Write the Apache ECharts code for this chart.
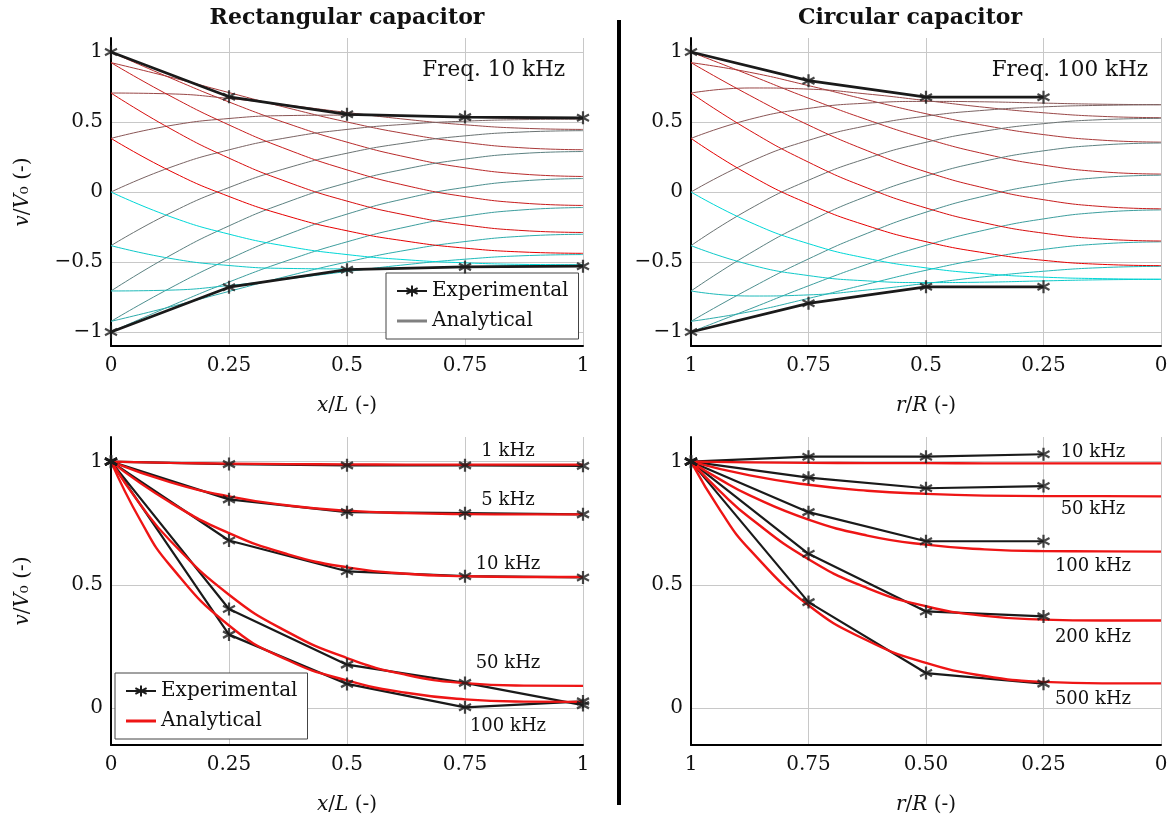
<!DOCTYPE html>
<html><head><meta charset="utf-8">
<script src="https://cdn.jsdelivr.net/npm/echarts@6/dist/echarts.min.js"></script>
<style>html,body{margin:0;padding:0;background:#fff}#c{width:1175px;height:821px}</style>
</head><body><div id="c"></div>
<script>
// ---------- DATA ----------
// Top row: snapshots of v/V0 at 16 phases (deg) of one period
const snapPhases = [0, 22.5, 45, 67.5, 90, 112.5, 135, 157.5, 180, 202.5, 225, 247.5, 270, 292.5, 315, 337.5];

// Rectangular capacitor, 10 kHz
const rectX = [0, 0.125, 0.25, 0.375, 0.5, 0.625, 0.75, 0.875, 1];
const rectSnapshots = [
  [1.000, 0.816, 0.643, 0.488, 0.356, 0.250, 0.173, 0.127, 0.111],
  [0.924, 0.821, 0.710, 0.600, 0.500, 0.416, 0.354, 0.315, 0.302],
  [0.707, 0.701, 0.668, 0.620, 0.568, 0.519, 0.480, 0.455, 0.447],
  [0.383, 0.474, 0.525, 0.546, 0.549, 0.543, 0.534, 0.526, 0.523],
  [0.000, 0.175, 0.301, 0.389, 0.447, 0.484, 0.506, 0.517, 0.520],
  [-0.383, -0.151, 0.032, 0.173, 0.277, 0.351, 0.401, 0.429, 0.438],
  [-0.707, -0.454, -0.242, -0.070, 0.065, 0.165, 0.235, 0.276, 0.289],
  [-0.924, -0.687, -0.479, -0.302, -0.158, -0.046, 0.033, 0.080, 0.096],
  [-1.000, -0.816, -0.643, -0.488, -0.356, -0.250, -0.173, -0.127, -0.111],
  [-0.924, -0.821, -0.710, -0.600, -0.500, -0.416, -0.354, -0.315, -0.302],
  [-0.707, -0.701, -0.668, -0.620, -0.568, -0.519, -0.480, -0.455, -0.447],
  [-0.383, -0.474, -0.525, -0.546, -0.549, -0.543, -0.534, -0.526, -0.523],
  [0.000, -0.175, -0.301, -0.389, -0.447, -0.484, -0.506, -0.517, -0.520],
  [0.383, 0.151, -0.032, -0.173, -0.277, -0.351, -0.401, -0.429, -0.438],
  [0.707, 0.454, 0.242, 0.070, -0.065, -0.165, -0.235, -0.276, -0.289],
  [0.924, 0.687, 0.479, 0.302, 0.158, 0.046, -0.033, -0.080, -0.096]
];
const rectExpX = [0, 0.25, 0.5, 0.75, 1];
const rectExpUpper = [1, 0.68, 0.555, 0.535, 0.53];
const rectExpLower = [-1, -0.68, -0.555, -0.535, -0.53];

// Circular capacitor, 100 kHz
const circR = [1, 0.875, 0.75, 0.625, 0.5, 0.375, 0.25, 0.125, 0];
const circSnapshots = [
  [1.000, 0.836, 0.670, 0.516, 0.381, 0.272, 0.192, 0.144, 0.128],
  [0.924, 0.855, 0.760, 0.658, 0.559, 0.475, 0.410, 0.370, 0.356],
  [0.707, 0.743, 0.735, 0.700, 0.653, 0.605, 0.566, 0.540, 0.531],
  [0.383, 0.519, 0.597, 0.635, 0.647, 0.644, 0.635, 0.627, 0.624],
  [0.000, 0.215, 0.369, 0.474, 0.542, 0.584, 0.608, 0.619, 0.623],
  [-0.383, -0.121, 0.084, 0.241, 0.355, 0.435, 0.488, 0.517, 0.526],
  [-0.707, -0.439, -0.213, -0.029, 0.114, 0.221, 0.294, 0.336, 0.350],
  [-0.924, -0.690, -0.478, -0.295, -0.144, -0.028, 0.055, 0.104, 0.120],
  [-1.000, -0.836, -0.670, -0.516, -0.381, -0.272, -0.192, -0.144, -0.128],
  [-0.924, -0.855, -0.760, -0.658, -0.559, -0.475, -0.410, -0.370, -0.356],
  [-0.707, -0.743, -0.735, -0.700, -0.653, -0.605, -0.566, -0.540, -0.531],
  [-0.383, -0.519, -0.597, -0.635, -0.647, -0.644, -0.635, -0.627, -0.624],
  [0.000, -0.215, -0.369, -0.474, -0.542, -0.584, -0.608, -0.619, -0.623],
  [0.383, 0.121, -0.084, -0.241, -0.355, -0.435, -0.488, -0.517, -0.526],
  [0.707, 0.439, 0.213, 0.029, -0.114, -0.221, -0.294, -0.336, -0.350],
  [0.924, 0.690, 0.478, 0.295, 0.144, 0.028, -0.055, -0.104, -0.120]
];
const circExpR = [1, 0.75, 0.5, 0.25];
const circExpUpper = [1, 0.795, 0.677, 0.677];
const circExpLower = [-1, -0.795, -0.677, -0.677];

// Bottom left: rectangular, several frequencies
const rectFreqLabels = ['1 kHz', '5 kHz', '10 kHz', '50 kHz', '100 kHz'];
const rectXFine = [0, 0.0625, 0.125, 0.25, 0.375, 0.5, 0.625, 0.75, 0.875, 1];
const rectAna1k   = [1, 0.995, 0.992, 0.990, 0.989, 0.988, 0.988, 0.988, 0.988];
const rectAna5k   = [1, 0.917, 0.859, 0.822, 0.801, 0.791, 0.787, 0.786, 0.786];
const rectAna10k  = [1, 0.835, 0.710, 0.624, 0.571, 0.545, 0.535, 0.532, 0.532];
const rectAna50k  = [1, 0.825, 0.680, 0.460, 0.308, 0.203, 0.135, 0.101, 0.091, 0.090];
const rectAna100k = [1, 0.761, 0.579, 0.335, 0.194, 0.112, 0.062, 0.035, 0.026, 0.025];
const rectExp1k   = [1, 0.990, 0.985, 0.985, 0.983];
const rectExp5k   = [1, 0.847, 0.795, 0.791, 0.786];
const rectExp10k  = [1, 0.680, 0.555, 0.535, 0.530];
const rectExp50k  = [1, 0.402, 0.176, 0.102, 0.012];
const rectExp100k = [1, 0.298, 0.098, 0.003, 0.027];

// Bottom right: circular, several frequencies
const circFreqLabels = ['10 kHz', '50 kHz', '100 kHz', '200 kHz', '500 kHz'];
const circRFine = [1, 0.9375, 0.875, 0.75, 0.625, 0.5, 0.375, 0.25, 0.125, 0];
const circAna10k  = [1, 0.997, 0.995, 0.994, 0.994, 0.993, 0.993, 0.993, 0.993];
const circAna50k  = [1, 0.944, 0.906, 0.882, 0.869, 0.862, 0.860, 0.860, 0.859];
const circAna100k = [1, 0.927, 0.863, 0.765, 0.700, 0.663, 0.644, 0.637, 0.636, 0.635];
const circAna200k = [1, 0.878, 0.772, 0.604, 0.487, 0.413, 0.374, 0.359, 0.355, 0.355];
const circAna500k = [1, 0.801, 0.643, 0.417, 0.274, 0.183, 0.130, 0.106, 0.100, 0.100];
const circExp10k  = [1, 1.020, 1.020, 1.030];
const circExp50k  = [1, 0.935, 0.892, 0.901];
const circExp100k = [1, 0.795, 0.677, 0.677];
const circExp200k = [1, 0.626, 0.392, 0.372];
const circExp500k = [1, 0.430, 0.142, 0.099];

// Tick labels
const xTicksRect = ['0', '0.25', '0.5', '0.75', '1'];
const xTicksCircTop = ['0', '0.25', '0.5', '0.75', '1'];
const xTicksCircBottom = ['0', '0.25', '0.50', '0.75', '1'];
const yTicksTop = [-1, -0.5, 0, 0.5, 1];
const yTicksBottom = [0, 0.5, 1];

// ---------- STYLE / BUILD ----------
const SERIF = '"DejaVu Serif", serif';
const TXT = '#111';
const STAR = 'path://M0,-5L0,5M-4.33,-2.5L4.33,2.5M-4.33,2.5L4.33,-2.5';
const LINE_ICON = 'path://M0,0H30V3H0Z';
const EXP_COLOR = '#1a1a1a';
const ANA_RED = '#ee1515';

const pts = (xs, ys) => xs.map((x, i) => [x, ys[i]]);
function snapColor(deg) {
  const idx = (((deg - 292.5) / 22.5) % 16 + 16) % 16;
  const f = idx / 15;
  const r = Math.round(230 * (1 - f)), g = Math.round(215 * f);
  return `rgb(${r},${g},${g})`;
}
const fmtNum = v => (v < 0 ? '\u2212' + String(Math.abs(v)) : String(v));

const nameStyle = {
  fontFamily: SERIF, fontSize: 20, color: TXT,
  rich: { i: { fontFamily: SERIF, fontStyle: 'italic', fontSize: 20, color: TXT } }
};
function xAxis(gi, inverse, labels, name) {
  return {
    type: 'value', gridIndex: gi, min: 0, max: 1, interval: 0.25, inverse: inverse,
    axisLine: { show: true, onZero: false, lineStyle: { color: '#000', width: 2 } },
    axisTick: { show: false },
    axisLabel: { margin: 10, color: TXT, fontFamily: SERIF, fontSize: 20,
      showMinLabel: true, showMaxLabel: true,
      formatter: v => labels[Math.round(v * 4)] },
    splitLine: { show: true, lineStyle: { color: '#c8c8c8', width: 1 } },
    name: name, nameLocation: 'middle', nameGap: 50, nameTextStyle: nameStyle
  };
}
function yAxis(gi, min, max, ticks, name) {
  const o = {
    type: 'value', gridIndex: gi, min: min, max: max,
    axisLine: { show: true, onZero: false, lineStyle: { color: '#000', width: 2 } },
    axisTick: { show: false, customValues: ticks },
    axisLabel: { margin: 8, color: TXT, fontFamily: SERIF, fontSize: 20, customValues: ticks, formatter: fmtNum },
    splitLine: { show: true, lineStyle: { color: '#c8c8c8', width: 1 } }
  };
  if (name) { Object.assign(o, { name: name, nameLocation: 'middle', nameRotate: 90, nameGap: 78, nameTextStyle: nameStyle }); }
  return o;
}

const series = [];
function addSnapshots(gi, xs, rows) {
  rows.forEach((row, k) => {
    series.push({ type: 'line', name: 'snap' + gi + '_' + k, xAxisIndex: gi, yAxisIndex: gi,
      data: pts(xs, row), smooth: 0.5, symbol: 'none', silent: true, z: 2,
      lineStyle: { color: snapColor(snapPhases[k]), width: 1 } });
  });
}
function addExp(gi, xs, ys, id) {
  series.push({ type: 'line', name: 'expline' + id, xAxisIndex: gi, yAxisIndex: gi, data: pts(xs, ys),
    symbol: 'none', silent: true, z: 3, lineStyle: { color: EXP_COLOR, width: gi < 2 ? 2.8 : 2.2 } });
  series.push({ type: 'scatter', name: 'expmark' + id, xAxisIndex: gi, yAxisIndex: gi, data: pts(xs, ys),
    symbol: STAR, symbolSize: [12, 13], silent: true, z: 6,
    itemStyle: { color: EXP_COLOR, borderColor: EXP_COLOR, borderWidth: 2.3 } });
}
function addAna(gi, xs, ys, id) {
  series.push({ type: 'line', name: 'ana' + id, xAxisIndex: gi, yAxisIndex: gi, data: pts(xs, ys),
    smooth: 0.5, symbol: 'none', silent: true, z: 4,
    lineStyle: { color: ANA_RED, width: 2.4 } });
}

// top left
addSnapshots(0, rectX, rectSnapshots);
addExp(0, rectExpX, rectExpUpper, 'TLu');
addExp(0, rectExpX, rectExpLower, 'TLl');
// top right
addSnapshots(1, circR, circSnapshots);
addExp(1, circExpR, circExpUpper, 'TRu');
addExp(1, circExpR, circExpLower, 'TRl');
// bottom left
addAna(2, rectX, rectAna1k, 'BL1');
addAna(2, rectX, rectAna5k, 'BL5');
addAna(2, rectX, rectAna10k, 'BL10');
addAna(2, rectXFine, rectAna50k, 'BL50');
addAna(2, rectXFine, rectAna100k, 'BL100');
addExp(2, rectExpX, rectExp1k, 'BL1');
addExp(2, rectExpX, rectExp5k, 'BL5');
addExp(2, rectExpX, rectExp10k, 'BL10');
addExp(2, rectExpX, rectExp50k, 'BL50');
addExp(2, rectExpX, rectExp100k, 'BL100');
// bottom right
addAna(3, circR, circAna10k, 'BR10');
addAna(3, circR, circAna50k, 'BR50');
addAna(3, circRFine, circAna100k, 'BR100');
addAna(3, circRFine, circAna200k, 'BR200');
addAna(3, circRFine, circAna500k, 'BR500');
addExp(3, circExpR, circExp10k, 'BR10');
addExp(3, circExpR, circExp50k, 'BR50');
addExp(3, circExpR, circExp100k, 'BR100');
addExp(3, circExpR, circExp200k, 'BR200');
addExp(3, circExpR, circExp500k, 'BR500');

// legend-only series
const legendExp = (name, gi) => ({ type: 'line', name: name, xAxisIndex: gi, yAxisIndex: gi, data: [],
  symbol: STAR, symbolSize: [12, 13], showSymbol: true,
  lineStyle: { color: EXP_COLOR, width: 2.8 },
  itemStyle: { color: EXP_COLOR, borderColor: EXP_COLOR, borderWidth: 2.3 } });
series.push(legendExp('Experimental', 0));
series.push({ type: 'line', name: 'Analytical', xAxisIndex: 0, yAxisIndex: 0, data: [], symbol: 'none',
  lineStyle: { color: '#808080', width: 3 }, itemStyle: { color: '#808080' } });
series.push(legendExp('Experimental ', 2));
series.push({ type: 'line', name: 'Analytical ', xAxisIndex: 2, yAxisIndex: 2, data: [], symbol: 'none',
  lineStyle: { color: ANA_RED, width: 3 }, itemStyle: { color: ANA_RED } });

const legendBase = {
  orient: 'vertical', itemWidth: 30, itemHeight: 14, itemGap: 10, padding: [8, 10, 8, 10],
  borderColor: '#444', borderWidth: 1, backgroundColor: '#fff', selectedMode: false,
  textStyle: { fontFamily: SERIF, fontSize: 20, color: TXT }, formatter: n => n.trim()
};

const txt = (text, x, y, align, size, bold) => ({
  type: 'text', z: 10, silent: true,
  style: { text: text, x: x, y: y, align: align, verticalAlign: 'middle', fill: TXT,
    font: (bold ? 'bold ' : '') + size + 'px ' + SERIF }
});
const rectLabelY = [451, 500, 564, 663, 726];
const circLabelY = [452, 509, 566, 637, 699];
const graphics = [
  txt('Rectangular capacitor', 347, 18, 'center', 22, true),
  txt('Circular capacitor', 910, 18, 'center', 22, true),
  txt('Freq. 10 kHz', 565, 70, 'right', 21.5, false),
  txt('Freq. 100 kHz', 1148, 70, 'right', 21.5, false),
  { type: 'rect', z: 10, silent: true, shape: { x: 617, y: 20, width: 4, height: 785 }, style: { fill: '#000' } }
];
rectFreqLabels.forEach((t, i) => graphics.push(txt(t, 508, rectLabelY[i], 'center', 18, false)));
circFreqLabels.forEach((t, i) => graphics.push(txt(t, 1093, circLabelY[i], 'center', 18, false)));

const option = {
  animation: false,
  backgroundColor: '#fff',
  grid: [
    { left: 111, top: 38, width: 472, height: 308 },
    { left: 691, top: 38, width: 470, height: 308 },
    { left: 111, top: 437, width: 472, height: 308 },
    { left: 691, top: 437, width: 470, height: 308 }
  ],
  xAxis: [
    xAxis(0, false, xTicksRect, '{i|x}/{i|L} (-)'),
    xAxis(1, true, xTicksCircTop, '{i|r}/{i|R} (-)'),
    xAxis(2, false, xTicksRect, '{i|x}/{i|L} (-)'),
    xAxis(3, true, xTicksCircBottom, '{i|r}/{i|R} (-)')
  ],
  yAxis: [
    yAxis(0, -1.1, 1.1, yTicksTop, '{i|v}/{i|V}\u2080 (-)'),
    yAxis(1, -1.1, 1.1, yTicksTop, null),
    yAxis(2, -0.15, 1.1, yTicksBottom, '{i|v}/{i|V}\u2080 (-)'),
    yAxis(3, -0.15, 1.1, yTicksBottom, null)
  ],
  legend: [
    Object.assign({}, legendBase, { data: ['Experimental', { name: 'Analytical', icon: LINE_ICON }], left: 386, top: 273 }),
    Object.assign({}, legendBase, { data: ['Experimental ', { name: 'Analytical ', icon: LINE_ICON }], left: 115, top: 673 })
  ],
  graphic: graphics,
  series: series
};
const chart = echarts.init(document.getElementById('c'), null, { renderer: 'canvas' });
chart.setOption(option);
</script></body></html>
